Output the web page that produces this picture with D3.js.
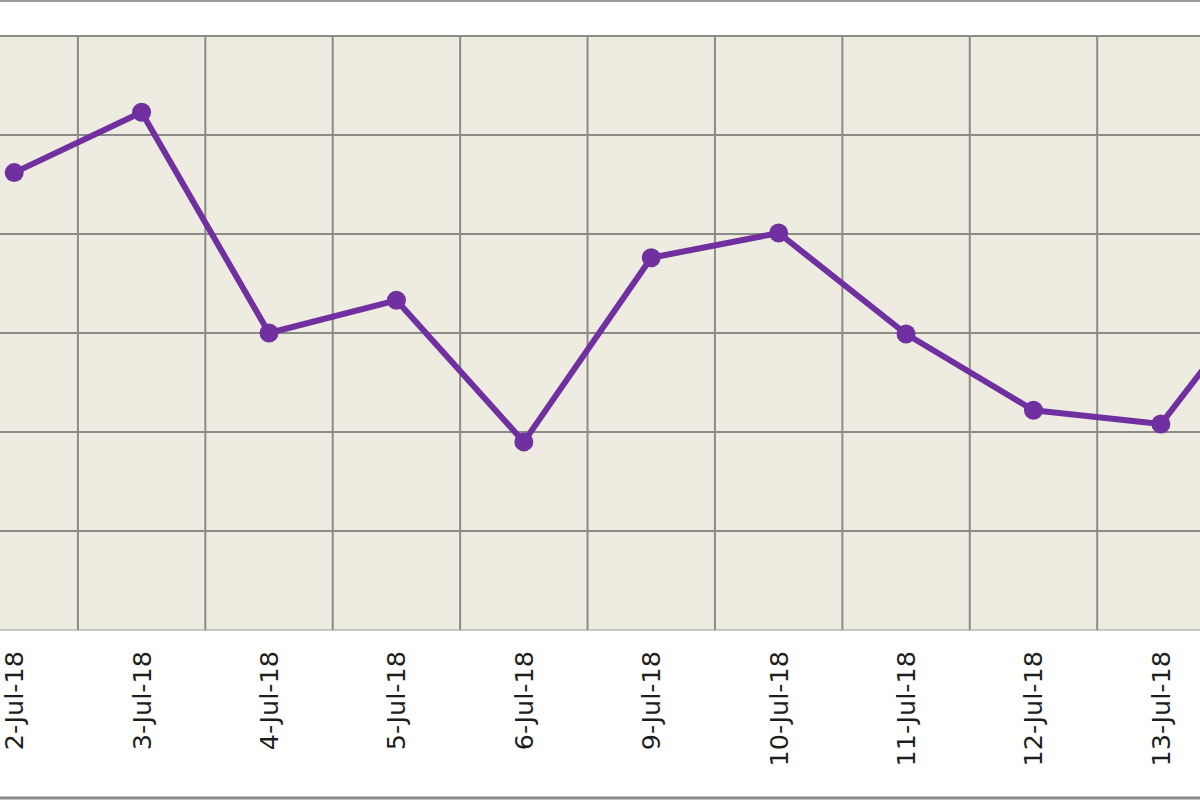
<!DOCTYPE html>
<html>
<head>
<meta charset="utf-8">
<script src="https://cdn.jsdelivr.net/npm/d3@7"></script>
<style>
    body { margin: 0; background: #ffffff; }
    svg { display: block; overflow: hidden; }
</style>
</head>
<body>
<div id="wrapper"></div>
<script>
// chart values (y axis labels are cropped out of the picture, so units are just grid steps x10)
const dates = ["2-Jul-18", "3-Jul-18", "4-Jul-18", "5-Jul-18", "6-Jul-18", "9-Jul-18",
               "10-Jul-18", "11-Jul-18", "12-Jul-18", "13-Jul-18", "16-Jul-18"];
const values = [46.2, 52.3, 30.0, 33.3, 19.0, 37.6, 40.1, 29.9, 22.2, 20.8, 37.5];
const yTicks = [0, 10, 20, 30, 40, 50, 60];

function buildPlot() {
    const dimention = {
        width: 1200,
        height: 800,
        margin: { top: 36, bottom: 170, left: -49.5, right: -152 }
    };
    dimention.boundedWidth = dimention.width - dimention.margin.left - dimention.margin.right;
    dimention.boundedHeight = dimention.height - dimention.margin.top - dimention.margin.bottom;

    const svg = d3.select("#wrapper").append("svg")
        .attr("width", dimention.width)
        .attr("height", dimention.height);

    // outer frame lines (top / bottom of the cropped chart box)
    svg.append("line")
        .attr("x1", 0).attr("x2", dimention.width)
        .attr("y1", 1).attr("y2", 1)
        .attr("stroke", "#9a9a9a").attr("stroke-width", 2);
    svg.append("line")
        .attr("x1", 0).attr("x2", dimention.width)
        .attr("y1", 798).attr("y2", 798)
        .attr("stroke", "#8a8a8a").attr("stroke-width", 3);

    const bounded = svg.append("g")
        .attr("transform", `translate(${dimention.margin.left},${dimention.margin.top})`);

    const xScaler = d3.scaleBand()
        .domain(dates)
        .range([0, dimention.boundedWidth])
        .padding(0);

    const yScaler = d3.scaleLinear()
        .domain(d3.extent(yTicks))
        .range([dimention.boundedHeight, 0]);

    // plot background
    bounded.append("rect")
        .attr("width", dimention.boundedWidth)
        .attr("height", dimention.boundedHeight)
        .attr("fill", "#eeece1");

    // horizontal gridlines
    bounded.append("g")
        .selectAll("line")
        .data(yTicks)
        .join("line")
        .attr("x1", 0).attr("x2", dimention.boundedWidth)
        .attr("y1", d => yScaler(d)).attr("y2", d => yScaler(d))
        .attr("stroke", d => d === 0 ? "#c8c8c8" : "#8c8c86")
        .attr("stroke-width", 2);

    // vertical gridlines at category boundaries
    bounded.append("g")
        .selectAll("line")
        .data(dates)
        .join("line")
        .attr("x1", d => xScaler(d)).attr("x2", d => xScaler(d))
        .attr("y1", 0).attr("y2", dimention.boundedHeight)
        .attr("stroke", "#8c8c86")
        .attr("stroke-width", 2);

    const xc = d => xScaler(d) + xScaler.bandwidth() / 2;

    // x labels, rotated (only the ones that fall inside the cropped picture)
    bounded.append("g")
        .selectAll("text")
        .data(dates.filter(d => xc(d) + dimention.margin.left < dimention.width))
        .join("text")
        .attr("transform", d => `translate(${xc(d)},${dimention.boundedHeight + 21}) rotate(-90)`)
        .attr("text-anchor", "end")
        .attr("dominant-baseline", "central")
        .attr("font-family", "DejaVu Sans, Verdana, sans-serif")
        .attr("font-size", 25.5)
        .attr("fill", "#1e1e1e")
        .text(d => d);

    const lineGenerator = d3.line()
        .x((d, i) => xc(dates[i]))
        .y(d => yScaler(d));

    bounded.append("path")
        .attr("fill", "none")
        .attr("stroke", "#7030a0")
        .attr("stroke-width", 6)
        .attr("stroke-linejoin", "round")
        .attr("d", lineGenerator(values));

    bounded.append("g")
        .selectAll("circle")
        .data(values)
        .join("circle")
        .attr("cx", (d, i) => xc(dates[i]))
        .attr("cy", d => yScaler(d))
        .attr("r", 9.5)
        .attr("fill", "#7030a0");
}

buildPlot();
</script>
</body>
</html>
